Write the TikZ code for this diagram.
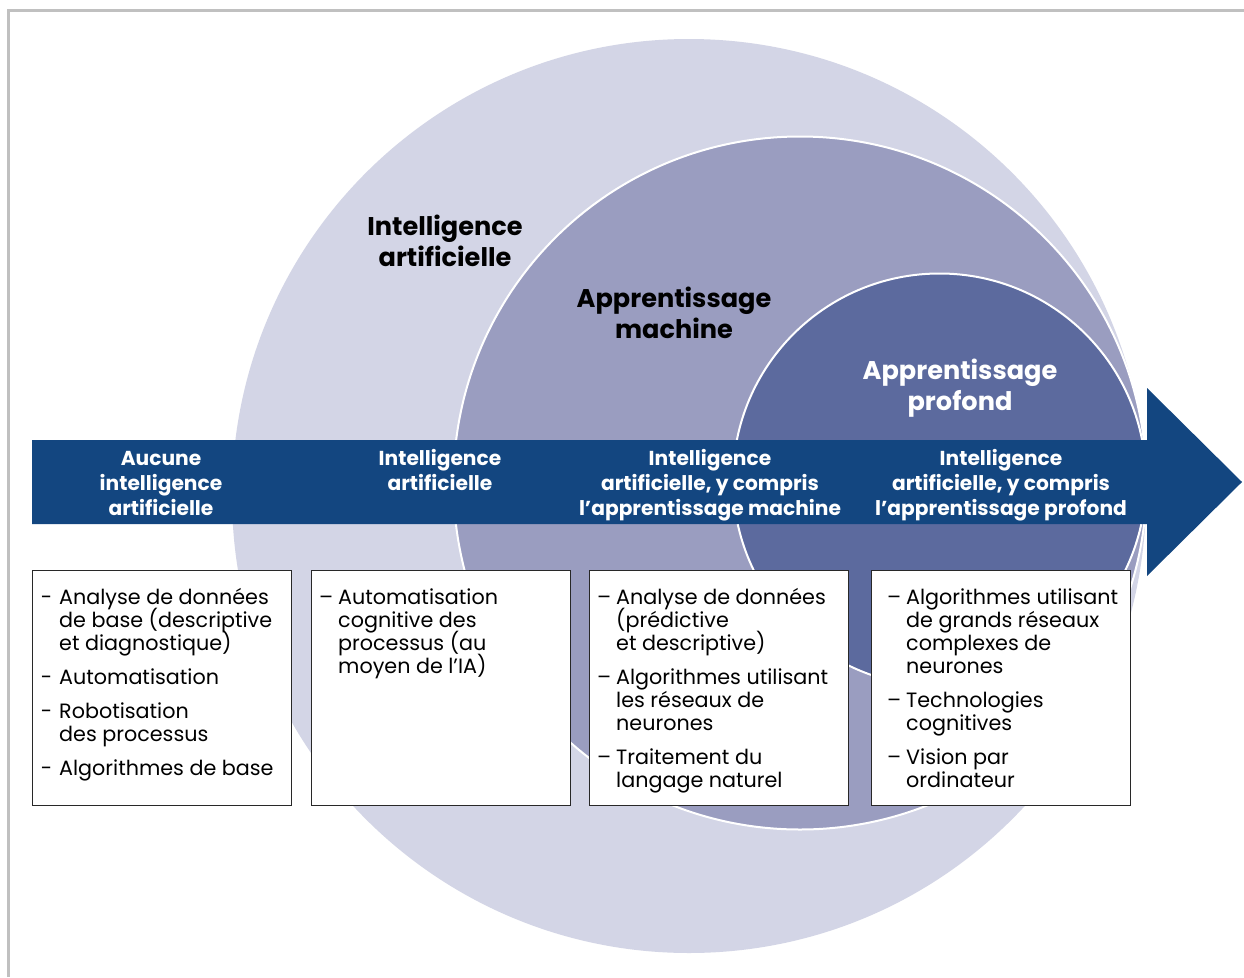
\documentclass[tikz,border=0pt]{standalone}
\usepackage{fontspec}
\setmainfont{Poppins}
\definecolor{ringA}{RGB}{211,213,230}
\definecolor{ringB}{RGB}{154,157,192}
\definecolor{ringC}{RGB}{92,106,158}
\definecolor{bandblue}{RGB}{19,70,128}
\definecolor{framegray}{RGB}{192,192,192}
\definecolor{boxline}{RGB}{40,40,40}
\newcommand{\hy}{\leavevmode\llap{-\hspace{7pt}}}
\newcommand{\en}{\leavevmode\llap{–\hspace{5pt}}}
\newcommand{\nx}{\par\vskip 11pt}
\newcommand{\boxlines}[1]{\vtop{\hsize=300pt\parindent=0pt\parskip=0pt\baselineskip=23pt\lineskiplimit=-100pt\lineskip=0pt #1\par}}
\begin{document}
\begin{tikzpicture}[x=1pt,y=-1pt,
  circlelabel/.style={anchor=base, inner sep=0pt, font=\bfseries\fontsize{25.6}{31}\selectfont},
  bandlabel/.style={anchor=base, inner sep=0pt, text=white, font=\bfseries\fontsize{20.2}{25}\selectfont},
  infobox/.style={draw=boxline, line width=1.3pt, fill=white, anchor=north west, inner sep=0pt, minimum width=259pt, minimum height=235pt},
  boxtext/.style={anchor=base west, inner sep=0pt, font=\fontsize{20.7}{23}\selectfont}]
\useasboundingbox (0,0) rectangle (1244,977);
\fill[white] (0,0) rectangle (1244,977);
\draw[framegray, line width=2.5pt] (8.5,977) -- (8.5,10.5) -- (1244,10.5);
% rings
\fill[ringA] (689,496) circle[radius=457pt];
\filldraw[fill=ringB, draw=white, line width=2pt] (800,483) circle[radius=346.5pt];
\filldraw[fill=ringC, draw=white, line width=2pt] (939.5,480) circle[radius=206.5pt];
% ring labels
\node[circlelabel] (lIA) at (445,235) {\begin{tabular}[t]{@{}c@{}}Intelligence\\artificielle\end{tabular}};
\node[circlelabel] (lAM) at (674,307) {\begin{tabular}[t]{@{}c@{}}Apprentissage\\machine\end{tabular}};
\node[circlelabel, text=white] (lAP) at (960,379) {\begin{tabular}[t]{@{}c@{}}Apprentissage\\profond\end{tabular}};
% band arrow
\fill[bandblue] (32,440) -- (1147,440) -- (1147,388) -- (1242,482) -- (1147,576) -- (1147,524) -- (32,524) -- cycle;
\node[bandlabel] (b1) at (161,465) {\begin{tabular}[t]{@{}c@{}}Aucune\\intelligence\\artificielle\end{tabular}};
\node[bandlabel] (b2) at (440,465) {\begin{tabular}[t]{@{}c@{}}Intelligence\\artificielle\end{tabular}};
\node[bandlabel] (b3) at (710,465) {\begin{tabular}[t]{@{}c@{}}Intelligence\\artificielle, y compris\\l’apprentissage machine\end{tabular}};
\node[bandlabel] (b4) at (1001,465) {\begin{tabular}[t]{@{}c@{}}Intelligence\\artificielle, y compris\\l’apprentissage profond\end{tabular}};
% boxes
\node[infobox] (box1) at (32,570) {};
\node[infobox] (box2) at (311,570) {};
\node[infobox] (box3) at (589,570) {};
\node[infobox] (box4) at (871,570) {};
\node[boxtext] (t1) at (59,604) {\boxlines{%
\hy Analyse de données\par de base (descriptive\par et diagnostique)\nx
\hy Automatisation\nx
\hy Robotisation\par des processus\nx
\hy Algorithmes de base}};
\node[boxtext] (t2) at (338,604) {\boxlines{%
\en Automatisation\par cognitive des\par processus (au\par moyen de l’IA)}};
\node[boxtext] (t3) at (616,604) {\boxlines{%
\en Analyse de données\par (prédictive\par et descriptive)\nx
\en Algorithmes utilisant\par les réseaux de\par neurones\nx
\en Traitement du\par langage naturel}};
\node[boxtext] (t4) at (906,604) {\boxlines{%
\en Algorithmes utilisant\par de grands réseaux\par complexes de\par neurones\nx
\en Technologies\par cognitives\nx
\en Vision par\par ordinateur}};
\end{tikzpicture}
\end{document}
